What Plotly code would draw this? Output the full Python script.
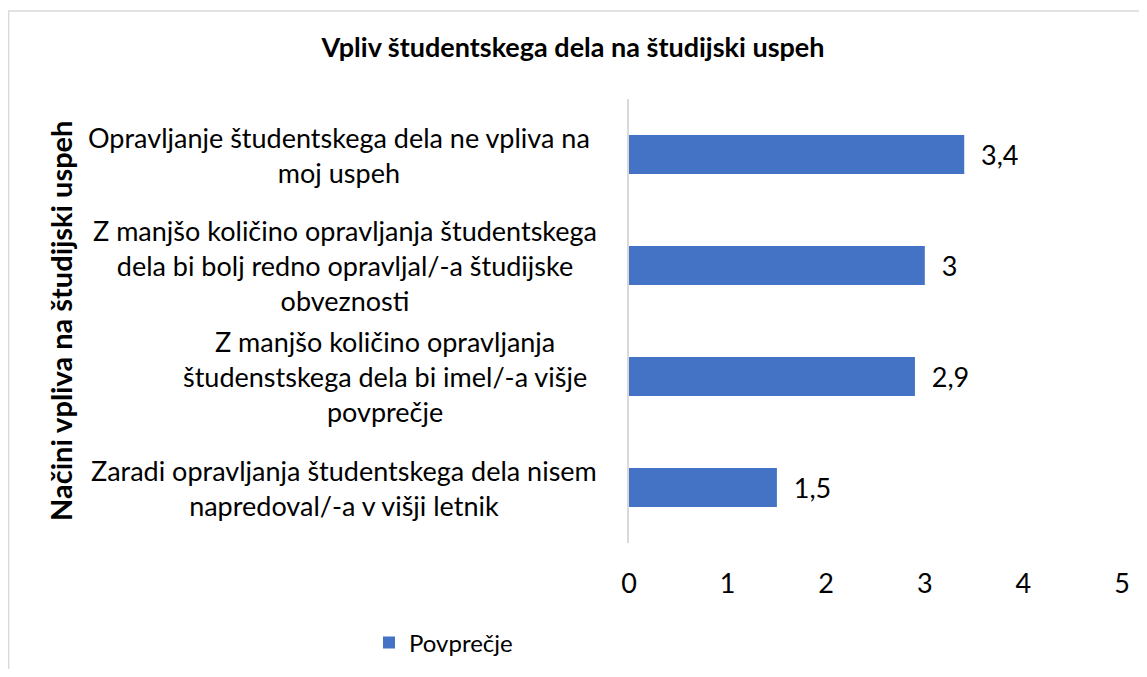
import plotly.graph_objects as go

# data, top to bottom as in the chart
categories = [
    "Opravljanje študentskega dela ne vpliva na<br>moj uspeh",
    "Z manjšo količino opravljanja študentskega<br>dela bi bolj redno opravljal/-a študijske<br>obveznosti",
    "Z manjšo količino opravljanja<br>študenstskega dela bi imel/-a višje<br>povprečje",
    "Zaradi opravljanja študentskega dela nisem<br>napredoval/-a v višji letnik",
]
values = [3.4, 3.0, 2.9, 1.5]
x_ticks = [0, 1, 2, 3, 4, 5]
series_name = "Povprečje"

BLUE = "#4472C4"
AXIS_GRAY = "#D9D9D9"
FONT = "Lato"
FS = 27

# the page puts the figure 8px in from the window corner
OFF = 8
W, H = 1147 - 2 * OFF, 677 - 2 * OFF
# plot area in window pixels
PX_L, PX_R, PX_T, PX_B = 629, 1122, 99, 543
L, R = PX_L - OFF, W - (PX_R - OFF)
T, B = PX_T - OFF, H - (PX_B - OFF)
plot_w = PX_R - PX_L
plot_h = PX_B - PX_T

def px_to_paper_x(px):
    return (px - PX_L) / plot_w

def px_to_paper_y(py):
    return (PX_B - py) / plot_h

fig = go.Figure()
fig.add_trace(go.Bar(
    y=categories, x=values, orientation="h", name=series_name,
    marker=dict(color=BLUE, line=dict(width=0)),
    text=["\u00a0\u00a0" + f"{v:g}".replace(".", ",") for v in values],
    textposition="outside", cliponaxis=False,
    textfont=dict(size=FS, color="#000000", family=FONT),
))

# category labels, centered lines like the original
label_centers = [339, 345, 385, 344]
for cat, cx in zip(categories, label_centers):
    fig.add_annotation(x=px_to_paper_x(cx), xref="paper", y=cat, yref="y",
                       text=cat, showarrow=False, xanchor="center", align="center",
                       font=dict(size=FS, color="#000000", family=FONT))

# rotated axis title
fig.add_annotation(x=px_to_paper_x(60), xref="paper", y=px_to_paper_y(321), yref="paper",
                   text="<b>Načini vpliva na študijski uspeh</b>", textangle=-90,
                   showarrow=False, xanchor="center", yanchor="middle",
                   font=dict(size=29, color="#000000", family=FONT))

# chart border (runs off the right/bottom edge as in the screenshot)
fig.add_shape(type="path", xref="paper", yref="paper",
              path=f"M {px_to_paper_x(8.6)} {px_to_paper_y(700)} L {px_to_paper_x(8.6)} {px_to_paper_y(11)} "
                   f"L {px_to_paper_x(1160)} {px_to_paper_y(11)}",
              line=dict(color=AXIS_GRAY, width=1.5))

fig.update_layout(
    width=W, height=H,
    margin=dict(l=L, r=R, t=T, b=B, autoexpand=False),
    paper_bgcolor="white", plot_bgcolor="white",
    font=dict(family=FONT, color="#000000"),
    title=dict(text="<b>Vpliv študentskega dela na študijski uspeh</b>",
               x=(573 - OFF) / W, xanchor="center", y=1 - (48 - OFF) / H, yanchor="middle",
               font=dict(size=27, color="#000000", family=FONT)),
    bargap=0.65,
    showlegend=True,
    legend=dict(orientation="h", xref="container", yref="container",
                x=(369 - OFF) / W, xanchor="left", y=1 - (643 - OFF) / H, yanchor="middle",
                font=dict(size=24, color="#000000", family=FONT)),
    xaxis=dict(range=[0, 5], tickvals=x_ticks, showgrid=False, zeroline=False,
               showline=False, ticks="", ticklabelstandoff=22, automargin=False,
               tickfont=dict(size=FS, color="#000000", family=FONT)),
    yaxis=dict(autorange="reversed", showticklabels=False, showgrid=False, automargin=False,
               showline=True, linecolor=AXIS_GRAY, linewidth=1.5, ticks=""),
)

fig.write_html("out.html")
